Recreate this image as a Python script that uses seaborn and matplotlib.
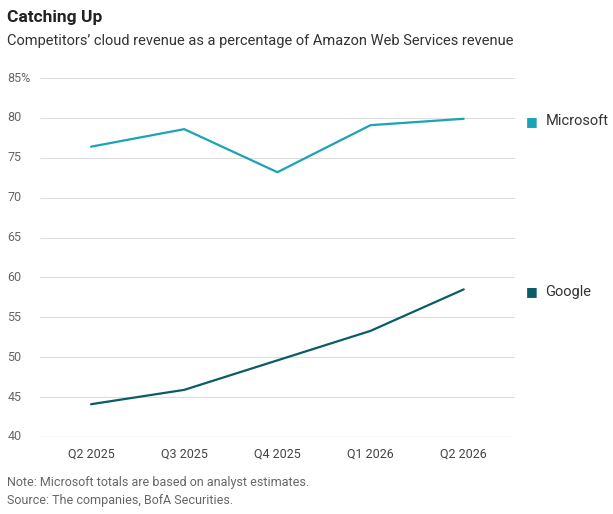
import matplotlib
matplotlib.use("Agg")
import matplotlib.pyplot as plt
import matplotlib.transforms as mtrans
import seaborn as sns
import pandas as pd

quarters = ["Q2 2025", "Q3 2025", "Q4 2025", "Q1 2026", "Q2 2026"]
microsoft = [76.4, 78.6, 73.2, 79.1, 79.9]
google = [44.1, 45.9, 49.6, 53.3, 58.5]
yticks = [40, 45, 50, 55, 60, 65, 70, 75, 80, 85]

df = pd.DataFrame({"quarter": quarters * 2,
                   "value": microsoft + google,
                   "company": ["Microsoft"] * 5 + ["Google"] * 5})
colors = {"Microsoft": "#1ba3b7", "Google": "#0b5c66"}

sns.set_style("white")
plt.rcParams["font.family"] = ["Roboto", "DejaVu Sans"]
fig = plt.figure(figsize=(6.13, 5.14), dpi=100)
ax = fig.add_axes([0.065, 0.15, 0.775, 0.698])
sns.lineplot(data=df, x="quarter", y="value", hue="company", palette=colors,
             linewidth=1.6, ax=ax, legend=False, sort=False)
ax.set_xlim(-0.55, 4.55)
ax.set_ylim(40, 85)
ax.set_yticks([])
trans = mtrans.blended_transform_factory(fig.transFigure, ax.transData)
for t in yticks:
    ax.axhline(t, color="#dddddd" if t != 40 else "#aaaaaa", lw=0.8, zorder=0)
    ax.text(0.012, t, f"{t}%" if t == 85 else str(t), transform=trans,
            ha="left", va="center", fontsize=9, color="#666666")
for s in ax.spines.values():
    s.set_visible(False)
ax.tick_params(axis="x", length=4, color="#aaaaaa", labelsize=9, labelcolor="#444444")
ax.set_xlabel("")
ax.set_ylabel("")

for name, vals in [("Microsoft", microsoft), ("Google", google)]:
    y = ax.transData.transform((0, vals[-1]))[1]
    yf = fig.transFigure.inverted().transform((0, y))[1] - 0.005
    fig.text(0.858, yf, "■", color=colors[name], fontsize=9, va="center")
    fig.text(0.89, yf, name, color="#333333", fontsize=10.5, va="center")

fig.text(0.012, 0.965, "Catching Up", fontsize=12.5, fontweight="bold", color="#222222", va="center")
fig.text(0.012, 0.92, "Competitors\u2019 cloud revenue as a percentage of Amazon Web Services revenue",
         fontsize=10.5, color="#333333", va="center")
fig.text(0.012, 0.062, "Note: Microsoft totals are based on analyst estimates.",
         fontsize=9, color="#666666", va="center")
fig.text(0.012, 0.026, "Source: The companies, BofA Securities.",
         fontsize=9, color="#666666", va="center")
fig.savefig("out.png", dpi=100)
